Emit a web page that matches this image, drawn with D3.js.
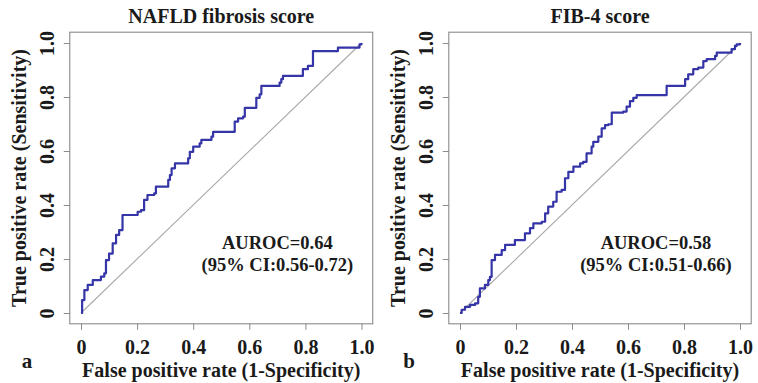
<!DOCTYPE html>
<html>
<head>
<meta charset="utf-8">
<script src="https://cdn.jsdelivr.net/npm/d3@7"></script>
<style>
  html, body { margin: 0; padding: 0; background: #fff; }
  svg { display: block; }
  text { font-family: "Liberation Serif", "Times New Roman", serif; font-weight: bold; fill: #1a1a1a; }
</style>
</head>
<body>
<div id="chart"></div>
<script>
// ---- data ----
const tickValues = [0, 0.2, 0.4, 0.6, 0.8, 1.0];
const tickLabels = ["0", "0.2", "0.4", "0.6", "0.8", "1.0"];
const panelTitles = ["NAFLD fibrosis score", "FIB-4 score"];
const panelLetters = ["a", "b"];
const aurocTexts = ["AUROC=0.64", "AUROC=0.58"];
const ciTexts = ["(95% CI:0.56-0.72)", "(95% CI:0.51-0.66)"];
const xTitle = "False positive rate (1-Specificity)";
const yTitle = "True positive rate (Sensitivity)";

// NAFLD fibrosis score ROC (false positive rate, true positive rate)
const fprA = [0, 0.004, 0.012, 0.024, 0.042, 0.065, 0.071, 0.083, 0.089, 0.1, 0.113, 0.125, 0.136, 0.148, 0.196, 0.202, 0.214, 0.225, 0.237, 0.261, 0.267, 0.305, 0.311, 0.317, 0.323, 0.335, 0.376, 0.382, 0.388, 0.4, 0.423, 0.429, 0.465, 0.471, 0.542, 0.548, 0.56, 0.578, 0.584, 0.619, 0.625, 0.637, 0.643, 0.696, 0.708, 0.714, 0.72, 0.785, 0.791, 0.809, 0.827, 0.91, 0.916, 0.987, 0.993, 1];
const tprA = [0, 0.048, 0.085, 0.104, 0.122, 0.122, 0.135, 0.147, 0.196, 0.22, 0.258, 0.289, 0.307, 0.363, 0.363, 0.375, 0.381, 0.419, 0.437, 0.443, 0.468, 0.468, 0.493, 0.511, 0.536, 0.554, 0.554, 0.573, 0.597, 0.616, 0.628, 0.641, 0.653, 0.671, 0.671, 0.709, 0.721, 0.727, 0.76, 0.76, 0.797, 0.81, 0.841, 0.841, 0.853, 0.866, 0.878, 0.878, 0.903, 0.915, 0.97, 0.97, 0.983, 0.983, 0.995, 1];

// FIB-4 score ROC
const fprB = [0, 0.006, 0.018, 0.036, 0.054, 0.065, 0.071, 0.089, 0.101, 0.107, 0.113, 0.125, 0.149, 0.161, 0.19, 0.196, 0.226, 0.232, 0.25, 0.262, 0.292, 0.304, 0.315, 0.333, 0.345, 0.363, 0.375, 0.387, 0.405, 0.429, 0.44, 0.452, 0.47, 0.476, 0.494, 0.506, 0.518, 0.53, 0.542, 0.583, 0.595, 0.607, 0.619, 0.631, 0.738, 0.792, 0.804, 0.815, 0.833, 0.851, 0.869, 0.881, 0.911, 0.917, 0.964, 0.97, 0.982, 0.988, 1];
const tprB = [0, 0.012, 0.023, 0.03, 0.036, 0.06, 0.091, 0.104, 0.122, 0.134, 0.196, 0.215, 0.233, 0.252, 0.252, 0.27, 0.27, 0.295, 0.314, 0.332, 0.338, 0.369, 0.394, 0.412, 0.449, 0.456, 0.499, 0.523, 0.542, 0.554, 0.56, 0.591, 0.616, 0.634, 0.653, 0.684, 0.696, 0.699, 0.742, 0.746, 0.764, 0.785, 0.797, 0.807, 0.841, 0.841, 0.866, 0.884, 0.903, 0.909, 0.933, 0.94, 0.952, 0.964, 0.964, 0.977, 0.989, 0.995, 1];

const fprSeries = [fprA, fprB];
const tprSeries = [tprA, tprB];

// ---- layout ----
const W = 758, H = 383;
const layouts = [
  { x0: 81, x1: 361.5, yTitleX: 19, letterX: 27 },
  { x0: 460, x1: 740, yTitleX: 398, letterX: 409 }
];
const yTop = 43, yBottom = 313;

const svg = d3.select("#chart").append("svg").attr("width", W).attr("height", H);

layouts.forEach((L, i) => {
  const x = d3.scaleLinear().domain([0, 1]).range([L.x0, L.x1]);
  const y = d3.scaleLinear().domain([0, 1]).range([yBottom, yTop]);
  const g = svg.append("g");

  const bx0 = x(-0.04), bx1 = x(1.04), by0 = y(1.04), by1 = y(-0.04);

  // diagonal reference
  g.append("line")
    .attr("x1", x(0)).attr("y1", y(0)).attr("x2", x(1)).attr("y2", y(1))
    .attr("stroke", "#a8a8a8").attr("stroke-width", 1.1);

  // ROC curve
  const pts = fprSeries[i].map((f, k) => [f, tprSeries[i][k]]);
  const line = d3.line().x(d => x(d[0])).y(d => y(d[1])).curve(d3.curveStepAfter);
  g.append("path").datum(pts)
    .attr("d", line)
    .attr("fill", "none")
    .attr("stroke", "#3535a8")
    .attr("stroke-width", 2.2)
    .attr("stroke-linejoin", "round");

  // box
  g.append("rect")
    .attr("x", bx0).attr("y", by0).attr("width", bx1 - bx0).attr("height", by1 - by0)
    .attr("fill", "none").attr("stroke", "#8a8a8a").attr("stroke-width", 1.1);

  // x axis
  const xa = g.append("g").attr("transform", `translate(0,${by1})`)
    .call(d3.axisBottom(x).tickValues(tickValues).tickFormat((d, k) => tickLabels[k])
      .tickSize(6).tickPadding(10));
  xa.select(".domain").remove();
  xa.selectAll(".tick line").attr("stroke", "#8a8a8a");
  xa.selectAll(".tick text").attr("font-size", 20).attr("fill", "#1a1a1a")
    .attr("font-family", '"Liberation Serif", "Times New Roman", serif').attr("font-weight", "bold");

  // y axis
  const ya = g.append("g").attr("transform", `translate(${bx0},0)`)
    .call(d3.axisLeft(y).tickValues(tickValues).tickFormat((d, k) => tickLabels[k])
      .tickSize(6).tickPadding(10));
  ya.select(".domain").remove();
  ya.selectAll(".tick line").attr("stroke", "#8a8a8a");
  ya.selectAll(".tick text").attr("font-size", 20).attr("fill", "#1a1a1a")
    .attr("font-family", '"Liberation Serif", "Times New Roman", serif').attr("font-weight", "bold")
    .attr("text-anchor", "middle").attr("x", 0).attr("dy", "0.35em")
    .attr("transform", "translate(-22.5,0) rotate(-90)");

  // title
  g.append("text").attr("x", (bx0 + bx1) / 2).attr("y", 16).attr("dy", "0.35em")
    .attr("text-anchor", "middle").attr("font-size", 20).text(panelTitles[i]);

  // axis titles
  g.append("text").attr("x", x(0.5)).attr("y", 370).attr("dy", "0.35em")
    .attr("text-anchor", "middle").attr("font-size", 20).text(xTitle);
  g.append("text").attr("transform", `translate(${L.yTitleX},${(by0 + by1) / 2}) rotate(-90)`)
    .attr("dy", "0.35em").attr("text-anchor", "middle").attr("font-size", 20).text(yTitle);

  // panel letter
  g.append("text").attr("x", L.letterX).attr("y", 361).attr("dy", "0.35em")
    .attr("text-anchor", "middle").attr("font-size", 21).text(panelLetters[i]);

  // AUROC annotation
  const ax = x(0.7);
  g.append("text").attr("x", ax).attr("y", 243).attr("dy", "0.35em")
    .attr("text-anchor", "middle").attr("font-size", 18.5).text(aurocTexts[i]);
  g.append("text").attr("x", ax).attr("y", 265).attr("dy", "0.35em")
    .attr("text-anchor", "middle").attr("font-size", 18.5).text(ciTexts[i]);
});
</script>
</body>
</html>
